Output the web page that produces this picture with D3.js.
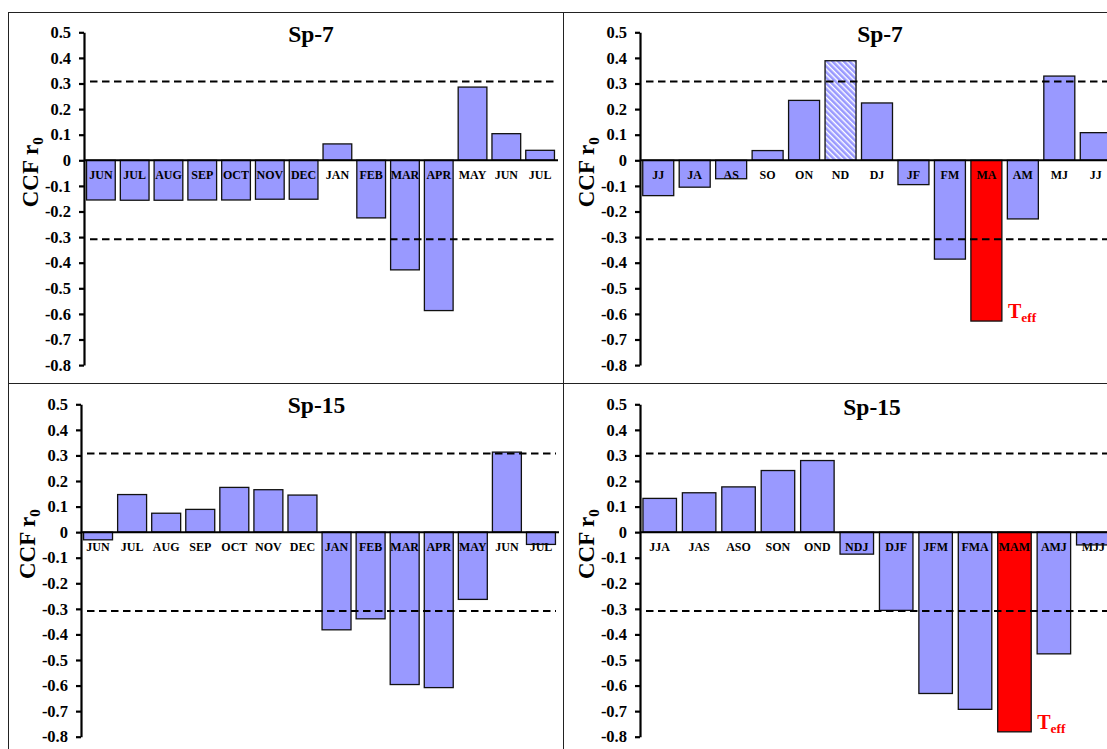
<!DOCTYPE html>
<html>
<head>
<meta charset="utf-8">
<script src="https://cdn.jsdelivr.net/npm/d3@7"></script>
<style>
  html, body { margin: 0; padding: 0; background: #fff; }
  svg { display: block; }
  svg text { font-family: "Liberation Serif", "Times New Roman", serif; font-weight: bold; }
</style>
</head>
<body>
<svg id="chart" width="1107" height="749"></svg>
<script>
// Cross-correlation (CCF r0) of tree-ring series with monthly / seasonal climate
const monthLabels = ["JUN","JUL","AUG","SEP","OCT","NOV","DEC","JAN","FEB","MAR","APR","MAY","JUN","JUL"];
const twoMonthLabels = ["JJ","JA","AS","SO","ON","ND","DJ","JF","FM","MA","AM","MJ","JJ"];
const threeMonthLabels = ["JJA","JAS","ASO","SON","OND","NDJ","DJF","JFM","FMA","MAM","AMJ","MJJ"];

const sp7Monthly = [-0.155,-0.156,-0.156,-0.155,-0.155,-0.152,-0.152,0.064,-0.225,-0.428,-0.587,0.286,0.104,0.039];
const sp7TwoMonth = [-0.138,-0.105,-0.072,0.038,0.234,0.389,0.224,-0.095,-0.386,-0.628,-0.229,0.329,0.108];
const sp15Monthly = [-0.030,0.147,0.074,0.089,0.175,0.166,0.145,-0.382,-0.339,-0.596,-0.608,-0.263,0.313,-0.048];
const sp15ThreeMonth = [0.132,0.154,0.177,0.241,0.280,-0.086,-0.306,-0.631,-0.693,-0.781,-0.476,-0.050];

const yTicks = [0.5,0.4,0.3,0.2,0.1,0,-0.1,-0.2,-0.3,-0.4,-0.5,-0.6,-0.7,-0.8];
const yTickLabels = ["0.5","0.4","0.3","0.2","0.1","0","-0.1","-0.2","-0.3","-0.4","-0.5","-0.6","-0.7","-0.8"];
const significance = 0.308;

const panels = [
  { title: "Sp-7",  labels: monthLabels,      values: sp7Monthly,    red: -1, hatch: -1,
    box: [8.5, 12.5, 555, 371], plot: [84, 32.3, 473, 332.8], titleXY: [311, 41.5] },
  { title: "Sp-7",  labels: twoMonthLabels,   values: sp7TwoMonth,   red: 9,  hatch: 5,
    box: [563.5, 12.5, 555, 371], plot: [640, 32.3, 474, 332.8], titleXY: [880, 41.5] },
  { title: "Sp-15", labels: monthLabels,      values: sp15Monthly,   red: -1, hatch: -1,
    box: [8.5, 383.5, 555, 371], plot: [81, 404.3, 477, 332.4], titleXY: [316.5, 413.3] },
  { title: "Sp-15", labels: threeMonthLabels, values: sp15ThreeMonth, red: 9, hatch: -1,
    box: [563.5, 383.5, 555, 371], plot: [640, 404.3, 473, 332.4], titleXY: [872, 414.5] }
];

const svg = d3.select("#chart");
const defs = svg.append("defs");
const pat = defs.append("pattern")
  .attr("id", "hatch").attr("patternUnits", "userSpaceOnUse")
  .attr("width", 4).attr("height", 4)
  .attr("patternTransform", "rotate(-45)");
pat.append("rect").attr("width", 4).attr("height", 4).attr("fill", "#fff");
pat.append("rect").attr("width", 2.6).attr("height", 4).attr("fill", "#9999FF");

const barFill = "#9999FF";

panels.forEach(p => {
  const [bx, by, bw, bh] = p.box;
  svg.append("rect").attr("x", bx).attr("y", by).attr("width", bw).attr("height", bh)
    .attr("fill", "none").attr("stroke", "#222").attr("stroke-width", 1);

  const [px, py, pw, ph] = p.plot;
  const y = d3.scaleLinear().domain([0.5, -0.8]).range([py, py + ph]);
  const x = d3.scaleBand().domain(d3.range(p.values.length)).range([px, px + pw])
    .paddingInner(0.15).paddingOuter(0.075);

  const g = svg.append("g");

  // bars
  const barRect = i => {
    const v = p.values[i];
    return { x: x(i), y: Math.min(y(v), y(0)), w: x.bandwidth(), h: Math.abs(y(v) - y(0)) };
  };
  g.selectAll("rect.bar").data(d3.range(p.values.length)).join("rect")
    .attr("class", "bar")
    .attr("x", i => barRect(i).x).attr("y", i => barRect(i).y)
    .attr("width", i => barRect(i).w).attr("height", i => barRect(i).h)
    .attr("fill", i => i === p.red ? "#FF0000" : (i === p.hatch ? "url(#hatch)" : barFill));

  // category labels under the zero line
  g.selectAll("text.cat").data(p.labels).join("text")
    .attr("class", "cat")
    .attr("x", (d, i) => x(i) + x.bandwidth() / 2)
    .attr("y", y(0) + 18.5)
    .attr("text-anchor", "middle")
    .style("font-size", "12px")
    .attr("fill", "#000")
    .text(d => d);

  // bar outlines over the labels
  g.selectAll("rect.outline").data(d3.range(p.values.length)).join("rect")
    .attr("class", "outline")
    .attr("x", i => barRect(i).x).attr("y", i => barRect(i).y)
    .attr("width", i => barRect(i).w).attr("height", i => barRect(i).h)
    .attr("fill", "none").attr("stroke", "#111").attr("stroke-width", 1.3);

  // significance thresholds
  [significance, -significance].forEach(s => {
    g.append("line").attr("x1", px + 6).attr("x2", px + pw - 2)
      .attr("y1", y(s)).attr("y2", y(s))
      .attr("stroke", "#000").attr("stroke-width", 2)
      .attr("stroke-dasharray", "7.5,4.5");
  });

  // zero line
  g.append("line").attr("x1", px).attr("x2", px + pw + 1)
    .attr("y1", y(0)).attr("y2", y(0))
    .attr("stroke", "#000").attr("stroke-width", 2);

  // y axis
  const axis = d3.axisLeft(y).tickValues(yTicks)
    .tickFormat((d, i) => yTickLabels[i]).tickSize(5).tickSizeOuter(0).tickPadding(8);
  const ag = svg.append("g").attr("transform", `translate(${px},0)`).call(axis);
  ag.attr("font-family", null).attr("font-size", null);
  ag.select(".domain").attr("stroke", "#000").attr("stroke-width", 2.2);
  ag.selectAll(".tick line").attr("stroke", "#000").attr("stroke-width", 2.2);
  ag.selectAll(".tick text").attr("fill", "#000")
    .style("font-size", "16.5px")
    .style("font-family", "'Liberation Serif', serif").style("font-weight", "bold");

  // y axis title
  const yt = svg.append("text")
    .attr("transform", `translate(${px - 46},${y(0) + 12}) rotate(-90)`)
    .attr("text-anchor", "middle").style("font-size", "23px").attr("fill", "#000");
  yt.append("tspan").text("CCF r");
  yt.append("tspan").style("font-size", "15px").attr("dy", 5).text("0");

  // panel title
  svg.append("text").attr("x", p.titleXY[0]).attr("y", p.titleXY[1])
    .attr("text-anchor", "middle").style("font-size", "23.5px").attr("fill", "#000")
    .text(p.title);

  // effective-season marker
  if (p.red >= 0) {
    const r = barRect(p.red);
    const t = svg.append("text").attr("x", r.x + r.w + 6).attr("y", r.y + r.h - 3)
      .attr("fill", "#FF0000").style("font-size", "20px");
    t.append("tspan").text("T");
    t.append("tspan").style("font-size", "13.5px").attr("dy", 4).text("eff");
  }
});
</script>
</body>
</html>
